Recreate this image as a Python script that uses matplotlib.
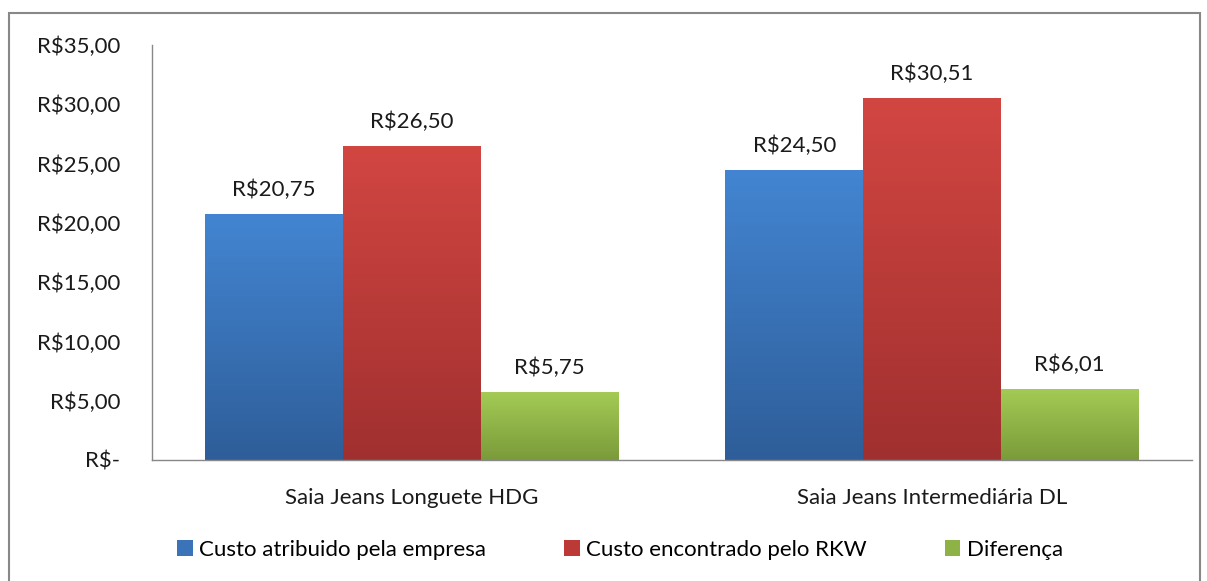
import numpy as np
import matplotlib.pyplot as plt
from matplotlib.patches import Rectangle, Patch
from matplotlib.colors import LinearSegmentedColormap

plt.rcParams['font.family'] = ['Lato', 'DejaVu Sans']

categories = ['Saia Jeans Longuete HDG', 'Saia Jeans Intermediária DL']
series = ['Custo atribuido pela empresa', 'Custo encontrado pelo RKW', 'Diferença']
values = [[20.75, 24.50], [26.50, 30.51], [5.75, 6.01]]
labels = [['R$20,75', 'R$24,50'], ['R$26,50', 'R$30,51'], ['R$5,75', 'R$6,01']]
yticks = [0, 5, 10, 15, 20, 25, 30, 35]
ytick_labels = ['R$-', 'R$5,00', 'R$10,00', 'R$15,00', 'R$20,00', 'R$25,00', 'R$30,00', 'R$35,00']

# top colour, bottom colour for the gradient
grad = [('#4385d2', '#2e5e99'), ('#d24642', '#a0302f'), ('#a4cb55', '#7b9b3a')]
solid = ['#3b73b9', '#bb3a37', '#8fb247']
fs = 16

fig = plt.figure(figsize=(12.07, 5.81), dpi=100)
ax = fig.add_axes([152/1207, 1-460/581, 1040/1207, 415/581])

w = 0.265
x = np.arange(len(categories))
for i, s in enumerate(series):
    cmap = LinearSegmentedColormap.from_list('g%d' % i, [grad[i][1], grad[i][0]])
    bars = ax.bar(x + (i-1)*w, values[i], w, color='none', edgecolor='none')
    for b, lab in zip(bars, labels[i]):
        x0, h = b.get_x(), b.get_height()
        img = ax.imshow(np.linspace(0, 1, 100).reshape(-1, 1), cmap=cmap, origin='lower',
                        extent=(x0, x0+w, 0, h), aspect='auto', zorder=2)
        img.set_clip_path(b)
        ax.annotate(lab, (x0 + w/2, h), xytext=(0, 10), textcoords='offset points',
                    ha='center', va='bottom', fontsize=fs, color='#1a1a1a')

ax.set_xlim(-0.5, 1.5)
ax.set_ylim(0, 35)
ax.set_yticks(yticks)
ax.set_yticklabels(ytick_labels)
ax.set_xticks(x)
ax.set_xticklabels(categories)
ax.tick_params(axis='y', length=0, pad=23, labelsize=fs, labelcolor='#1a1a1a')
ax.tick_params(axis='x', length=0, pad=20, labelsize=fs, labelcolor='#1a1a1a')
for sp in ['top', 'right']:
    ax.spines[sp].set_visible(False)
for sp in ['left', 'bottom']:
    ax.spines[sp].set_color('#888888')
    ax.spines[sp].set_linewidth(1)

handles = [Patch(facecolor=solid[i], edgecolor='none', label=series[i]) for i in range(3)]
fig.legend(handles=handles, loc='center', bbox_to_anchor=(620/1207, 1-550/581), ncol=3,
           frameon=False, fontsize=fs, handlelength=0.7, handleheight=0.7,
           handletextpad=0.3, columnspacing=3.5)

fig.patches.append(Rectangle((9/1207, -0.05), 1191/1207, 1.05-13/581, transform=fig.transFigure,
                             fill=False, edgecolor='#888888', linewidth=1.5))

fig.savefig('out.png', dpi=100)
